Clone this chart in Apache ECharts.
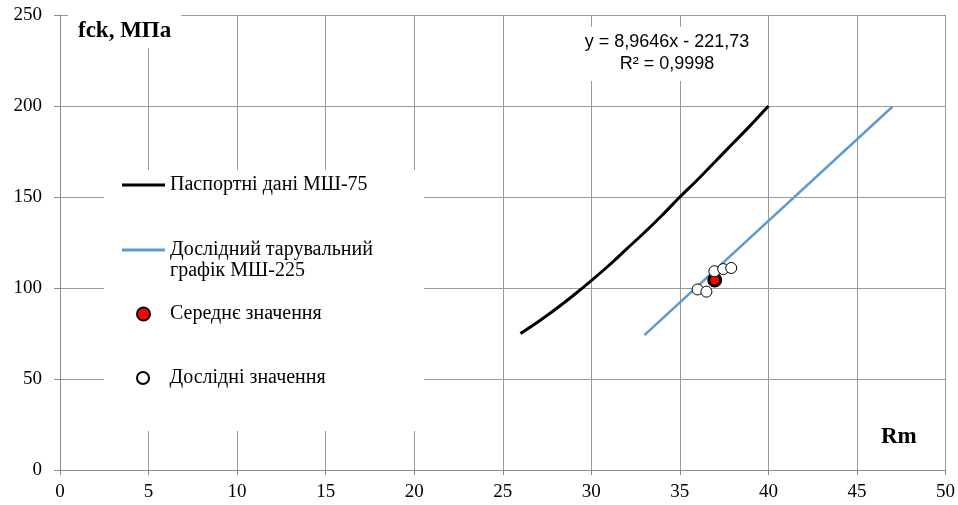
<!DOCTYPE html>
<html>
<head>
<meta charset="utf-8">
<script src="https://cdn.jsdelivr.net/npm/echarts@6/dist/echarts.min.js"></script>
<style>
  html, body { margin: 0; padding: 0; background: #fff; }
  #chart { width: 958px; height: 505px; }
</style>
</head>
<body>
<div id="chart"></div>
<script>
// Passport calibration curve of the МШ-75 hammer (Rm -> fck)
const passportRm  = [26, 27, 28, 29, 30, 31, 32, 33, 34, 35, 36, 37, 38, 39, 40];
const passportFck = [75, 81.5, 88.5, 96, 104, 112.5, 121.5, 130.5, 140, 150, 159.5, 169.5, 179.5, 189.5, 200];

// Experimental calibration line of the МШ-225 hammer
const trendRm  = [33, 47];
const trendFck = [74.1, 199.6];

// Mean value
const meanRm  = [36.97];
const meanFck = [104.4];

// Experimental values
const testRm  = [36.0, 36.5, 36.95, 37.45, 37.9];
const testFck = [99.2, 98.0, 109.2, 110.4, 111.0];

// Axis ticks
const xTicks = { min: 0, max: 50, step: 5 };
const yTicks = { min: 0, max: 250, step: 50 };

const seriesNames = [
  'Паспортні дані МШ-75',
  'Дослідний тарувальний графік МШ-225',
  'Середнє значення',
  'Дослідні значення'
];
const equationText = 'y = 8,9646x - 221,73\nR² = 0,9998';
const yTitle = 'fck, МПа';
const xTitle = 'Rm';

const pairs = (xs, ys) => xs.map((x, i) => [x, ys[i]]);

const SERIF = '"Liberation Serif", "Times New Roman", serif';
const gridColor = '#9a9a9a';
const axisColor = '#8a8a8a';
const legendText = { fontFamily: SERIF, fontSize: 20, color: '#000', lineHeight: 21 };

function legendAt(name, left, top, extra) {
  return Object.assign({
    data: [name],
    left: left,
    top: top,
    orient: 'vertical',
    itemWidth: 43,
    itemHeight: 13,
    padding: 0,
    selectedMode: false,
    textStyle: legendText,
    z: 20
  }, extra || {});
}

const chart = echarts.init(document.getElementById('chart'), null, { renderer: 'canvas' });

chart.setOption({
  animation: false,
  backgroundColor: '#fff',
  grid: { left: 60, right: 5, top: 15, bottom: 35, containLabel: false },
  xAxis: {
    type: 'value',
    min: xTicks.min, max: xTicks.max, interval: xTicks.step,
    axisLine: { show: true, lineStyle: { color: axisColor, width: 1 } },
    axisTick: { show: true, length: 5, lineStyle: { color: axisColor } },
    axisLabel: { margin: 13, color: '#000', fontFamily: SERIF, fontSize: 19 },
    splitLine: { show: true, lineStyle: { color: gridColor, width: 1 } }
  },
  yAxis: {
    type: 'value',
    min: yTicks.min, max: yTicks.max, interval: yTicks.step,
    axisLine: { show: true, lineStyle: { color: axisColor, width: 1 } },
    axisTick: { show: true, length: 6, lineStyle: { color: axisColor } },
    axisLabel: { margin: 18, color: '#000', fontFamily: SERIF, fontSize: 19 },
    splitLine: { show: true, lineStyle: { color: gridColor, width: 1 } }
  },
  title: [
    {
      text: yTitle,
      left: 68, top: 15,
      padding: [5, 10, 5, 10],
      backgroundColor: '#fff',
      textStyle: { fontFamily: SERIF, fontSize: 23, fontWeight: 'bold', color: '#000' },
      z: 20
    },
    {
      text: equationText,
      left: 659, top: 27,
      padding: [4, 8, 6, 8],
      backgroundColor: '#fff',
      textAlign: 'center',
      textStyle: {
        fontFamily: '"Liberation Sans", Arial, sans-serif',
        fontSize: 18, fontWeight: 'normal', color: '#000', lineHeight: 22
      },
      z: 20
    },
    {
      text: xTitle,
      left: 871, top: 422,
      padding: [4, 10, 4, 10],
      backgroundColor: '#fff',
      textStyle: { fontFamily: SERIF, fontSize: 23, fontWeight: 'bold', color: '#000' },
      z: 20
    }
  ],
  graphic: [
    {
      type: 'rect',
      shape: { x: 104, y: 170, width: 320, height: 261 },
      style: { fill: '#fff' },
      z: 10
    }
  ],
  legend: [
    legendAt(seriesNames[0], 122, 185 - 10.5, {
      data: [{ name: seriesNames[0], icon: 'rect' }], itemHeight: 3
    }),
    legendAt(seriesNames[1], 122, 250 - 31.5, {
      data: [{ name: seriesNames[1], icon: 'rect' }], itemHeight: 3,
      formatter: () => '\nДослідний тарувальний\nграфік МШ-225'
    }),
    legendAt(seriesNames[2], 136, 314 - 10.5),
    legendAt(seriesNames[3], 136, 378 - 10.5, { itemHeight: 12 })
  ],
  series: [
    {
      name: seriesNames[0],
      type: 'line',
      data: pairs(passportRm, passportFck),
      symbol: 'none',
      smooth: 0.3,
      lineStyle: { color: '#000', width: 3 },
      itemStyle: { color: '#000' },
      z: 2
    },
    {
      name: seriesNames[1],
      type: 'line',
      data: pairs(trendRm, trendFck),
      symbol: 'none',
      lineStyle: { color: '#5b9bd5', width: 2.5 },
      itemStyle: { color: '#5b9bd5' },
      z: 2
    },
    {
      name: seriesNames[2],
      type: 'scatter',
      data: pairs(meanRm, meanFck),
      symbol: 'circle',
      symbolSize: 12,
      itemStyle: { color: '#ff0000', borderColor: '#000', borderWidth: 3, opacity: 1 },
      z: 3
    },
    {
      name: seriesNames[3],
      type: 'scatter',
      data: pairs(testRm, testFck),
      symbol: 'circle',
      symbolSize: 11,
      itemStyle: { color: '#fff', borderColor: '#000', borderWidth: 1, opacity: 1 },
      z: 4
    }
  ]
});
</script>
</body>
</html>
